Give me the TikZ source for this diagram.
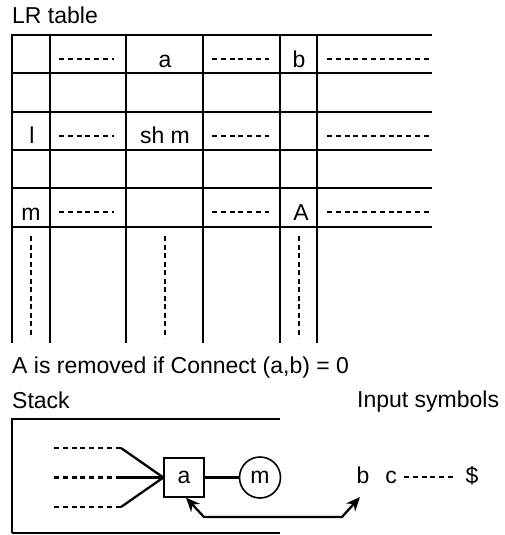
\documentclass[tikz,border=0pt]{standalone}
\usepackage{fontspec}
\setmainfont{Liberation Sans}
\usetikzlibrary{arrows.meta}
\begin{document}
\begin{tikzpicture}[x=1pt,y=-1pt,
  font=\fontsize{23}{27}\selectfont,
  grid/.style={line width=1.9pt},
  border/.style={line width=2.8pt},
  dashrow/.style={line width=2.6pt, dash pattern=on 5pt off 3.8pt},
  vdots/.style={line width=2.8pt, dash pattern=on 5pt off 3.5pt},
  txt/.style={inner sep=0pt, anchor=base},
  conn/.style={line width=2.3pt},
  arr/.style={line width=2.3pt, {Stealth[length=14pt,width=12pt]}-{Stealth[length=14pt,width=12pt]}}
]
\useasboundingbox (0,0) rectangle (504,535);

% title
\node[txt, anchor=base west] (title) at (12,24) {LR table};

% table grid
\foreach \y in {73,112,150,188,227} \draw[grid] (12,\y) -- (432,\y);
\draw[border] (12,35) -- (432,35);
\draw[border] (12,34) -- (12,343);
\foreach \x in {50,126,203,280,317} \draw[grid] (\x,35) -- (\x,343);

% cell texts
\node[txt] (ca) at (165,67) {a};
\node[txt] (cb) at (299,67) {b};
\node[txt] (cl) at (32,143) {l};
\node[txt] (csh) at (165,143) {sh m};
\node[txt] (cm) at (31,220) {m};
\node[txt] (cA) at (301,220) {A};

% dashed cell entries
\foreach \y in {59,136,212} {
  \draw[dashrow] (59,\y) -- (114,\y);
  \draw[dashrow] (212,\y) -- (269,\y);
  \draw[dashrow] (327,\y) -- (430,\y);
}

% vertical dotted continuation
\foreach \x in {31,165,299} \draw[vdots] (\x,236) -- (\x,338);

% caption lines
\node[txt, anchor=base west] (note) at (12,373) {A is removed if Connect (a,b) = 0};
\node[txt, anchor=base west] (stack) at (12,408) {Stack};
\node[txt, anchor=base west] (input) at (357,407) {Input symbols};

% stack box
\draw[border] (280,419) -- (12,419) -- (12,533);
\draw[grid] (12,533) -- (280,533);

% nodes in stack
\node[draw, line width=1.3pt, minimum width=40pt, minimum height=39pt, inner sep=0pt] (boxa) at (184,477.5) {a};
\node[draw, circle, line width=1.6pt, minimum size=41pt, inner sep=0pt] (circm) at (260,477.5) {m};
\draw[conn] (boxa.east) -- (circm.west);

\coordinate (d1s) at (54,448); \coordinate (d1e) at (121,448);
\coordinate (d2s) at (54,477.5); \coordinate (d2e) at (121,477.5);
\coordinate (d3s) at (54,507); \coordinate (d3e) at (121,507);
\draw[dashrow] (d1s) -- (d1e);
\draw[dashrow] (d2s) -- (d2e);
\draw[dashrow] (d3s) -- (d3e);
\draw[conn] (d1e) -- (boxa.west);
\draw[conn] (d2e) -- (boxa.west);
\draw[conn] (d3e) -- (boxa.west);

% input symbols
\node[txt] (inb) at (363,483) {b};
\node[txt] (inc) at (391,483) {c};
\node[txt] (indollar) at (472,483) {\$};
\draw[dashrow] (404,477) -- (456,477);

% arrow
\coordinate (tipb) at (360,497);
\coordinate (turnL) at (204,517);
\coordinate (turnR) at (342,517);
\draw[arr] ([xshift=2pt]boxa.south) -- (turnL) -- (turnR) -- (tipb);
\end{tikzpicture}
\end{document}
